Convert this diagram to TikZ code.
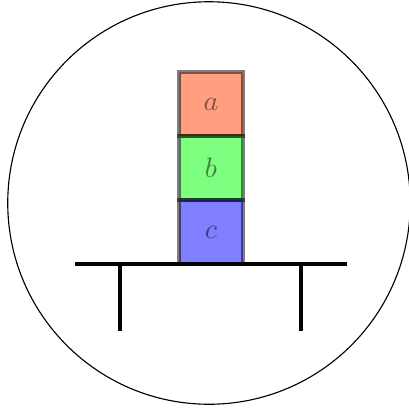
\documentclass[tikz,border=0pt]{standalone}
\usepackage{xcolor}
\usepackage{tikz}
\usetikzlibrary{positioning}
\definecolor{blocka}{RGB}{255,64,0}
\definecolor{blockb}{RGB}{0,255,0}
\definecolor{blockc}{RGB}{0,0,255}
\tikzset{
  blk/.style ={rectangle, draw=black, very thick, opacity=0.5, minimum size=0.8cm,
               inner sep=0pt, outer sep=0pt},
  tbl/.style ={line width=1.2pt},
}
\begin{document}
\begin{tikzpicture}[x=0.0125cm, y=-0.0125cm]
\useasboundingbox (0,0) rectangle (409,410);
\draw (209,203) circle (2.515cm);
\node[blk, fill=blocka] (a) at (211,104) {$a$};
\node[blk, fill=blockb, below=0pt of a] (b) {$b$};
\node[blk, fill=blockc, below=0pt of b] (c) {$c$};
% table
\coordinate (tl) at (75,264);
\coordinate (tr) at (347,264);
\draw[tbl] (tl) -- (tr);
\draw[tbl] (120,264) -- (120,331);
\draw[tbl] (301,264) -- (301,331);
\end{tikzpicture}
\end{document}
